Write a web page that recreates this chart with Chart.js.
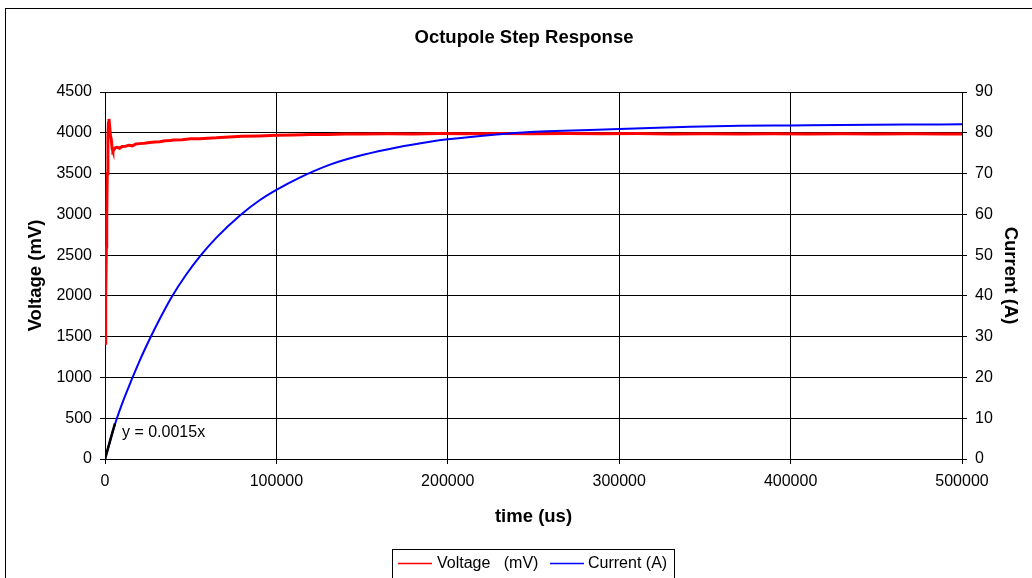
<!DOCTYPE html>
<html><head><meta charset="utf-8">
<script src="https://cdn.jsdelivr.net/npm/chart.js@4.4.1/dist/chart.umd.min.js"></script>
<style>html,body{margin:0;padding:0;background:#fff;overflow:hidden;}#wrap{width:1032px;height:578px;position:relative;}</style>
</head><body><div id="wrap"><canvas id="c" width="1032" height="578"></canvas></div>
<script>
const chartTitle = 'Octupole Step Response';
const xAxisTitle = 'time (us)';
const yLeftTitle = 'Voltage (mV)';
const yRightTitle = 'Current (A)';
const voltageLabel = 'Voltage   (mV)';
const currentLabel = 'Current (A)';
const trendLabel = 'y = 0.0015x';

const xTicks = [0, 100000, 200000, 300000, 400000, 500000];
const voltageTicks = [0, 500, 1000, 1500, 2000, 2500, 3000, 3500, 4000, 4500];
const currentTicks = [0, 10, 20, 30, 40, 50, 60, 70, 80, 90];

const voltageTime = [0, 300, 500, 800, 1000, 1300, 1700, 2000, 2300, 2700, 3200, 3600, 4200, 4600, 5200, 6000, 7000, 8500, 10000, 12000, 14000, 16000, 18000, 20000, 23000, 26000, 29000, 32000, 35000, 38000, 40000, 45000, 50000, 55000, 60000, 65000, 70000, 75000, 80000, 90000, 100000, 110000, 120000, 130000, 140000, 150000, 165000, 180000, 195000, 210000, 230000, 250000, 270000, 290000, 310000, 330000, 350000, 370000, 390000, 410000, 430000, 450000, 470000, 490000, 500000];
const voltageValues = [1420, 1700, 2000, 2600, 2950, 3500, 3950, 4120, 4170, 4080, 3960, 3930, 3800, 3775, 3790, 3815, 3822, 3810, 3832, 3836, 3848, 3840, 3862, 3867, 3872, 3880, 3886, 3890, 3902, 3905, 3911, 3915, 3926, 3928, 3933, 3938, 3946, 3950, 3956, 3962, 3970, 3974, 3979, 3980, 3984, 3985, 3988, 3986, 3990, 3989, 3992, 3988, 3990, 3987, 3991, 3986, 3989, 3985, 3988, 3986, 3989, 3984, 3987, 3985, 3986];

const currentTime = [0, 2000, 4000, 6800, 10000, 15600, 20000, 26300, 32000, 39000, 47000, 55600, 65000, 78900, 90000, 100000, 113000, 131300, 150700, 170200, 189600, 200000, 228500, 248000, 267400, 300000, 318000, 341300, 370500, 400000, 428800, 467700, 500000];
const currentValues = [0, 3.0, 6.0, 9.8, 13.6, 19.5, 23.9, 29.6, 34.4, 39.8, 45.0, 49.8, 54.3, 59.8, 63.4, 66.0, 68.9, 72.2, 74.6, 76.4, 77.8, 78.4, 79.6, 80.2, 80.5, 80.9, 81.2, 81.5, 81.7, 81.8, 81.9, 82.0, 82.1];

const trendTime = [0, 5800];
const trendValues = [0, 8.7];

const FONT = "'Liberation Sans', Arial, sans-serif";
const pts = (xs, ys) => xs.map((x, i) => ({x, y: ys[i]}));

const framePlugin = {
  id: 'frame',
  beforeDraw(chart) {
    const ctx = chart.ctx;
    ctx.save();
    ctx.fillStyle = '#fff';
    ctx.fillRect(0, 0, chart.width, chart.height);
    ctx.strokeStyle = '#000';
    ctx.lineWidth = 1;
    ctx.strokeRect(5.5, 8.5, 1200, 700);
    ctx.restore();
  },
  afterDraw(chart) {
    const ctx = chart.ctx;
    ctx.save();
    ctx.fillStyle = '#000';
    ctx.font = 'bold 18.5px ' + FONT;
    ctx.textAlign = 'center';
    ctx.textBaseline = 'middle';
    ctx.fillText(chartTitle, 524, 38);

    const xs = chart.scales.x, ys = chart.scales.y1;
    ctx.font = '16px ' + FONT;
    ctx.textAlign = 'left';
    ctx.fillText(trendLabel, xs.getPixelForValue(9900), ys.getPixelForValue(6.4));

    ctx.strokeStyle = '#000';
    ctx.lineWidth = 1;
    ctx.strokeRect(392.5, 549.5, 282, 40);
    const ds = chart.data.datasets;
    const items = [[ds[0], 398, 437], [ds[1], 550, 588]];
    items.forEach(([d, lx, tx]) => {
      ctx.strokeStyle = d.borderColor;
      ctx.lineWidth = 1.5;
      ctx.beginPath();
      ctx.moveTo(lx, 563.5);
      ctx.lineTo(lx + 34, 563.5);
      ctx.stroke();
      ctx.fillStyle = '#000';
      ctx.fillText(d.label, tx, 564);
    });
    ctx.restore();
  }
};

const tickFont = {family: FONT, size: 16};
const titleFont = {family: FONT, size: 18.5, weight: 'bold'};

new Chart(document.getElementById('c'), {
  type: 'line',
  data: {
    datasets: [
      {label: voltageLabel, data: pts(voltageTime, voltageValues), yAxisID: 'y', borderColor: '#ff0000', borderWidth: 3, pointRadius: 0, tension: 0, order: 2},
      {label: currentLabel, data: pts(currentTime, currentValues), yAxisID: 'y1', borderColor: '#0000ff', borderWidth: 2, pointRadius: 0, cubicInterpolationMode: 'monotone', order: 1},
      {label: 'trend', data: pts(trendTime, trendValues), yAxisID: 'y1', borderColor: '#000000', borderWidth: 2.5, pointRadius: 0, order: 0}
    ]
  },
  options: {
    responsive: false,
    animation: false,
    devicePixelRatio: 1,
    layout: {padding: {top: 92, left: 0, right: 0, bottom: 0}},
    plugins: {legend: {display: false}, title: {display: false}, tooltip: {enabled: false}},
    scales: {
      x: {
        type: 'linear', min: 0, max: 500000,
        afterBuildTicks: s => { s.ticks = xTicks.map(v => ({value: v})); },
        afterFit: s => { s.height = 119; },
        ticks: {font: tickFont, color: '#000', padding: 8, maxRotation: 0, callback: v => String(v)},
        grid: {color: '#000', lineWidth: 1, tickLength: 5, tickColor: '#000'},
        border: {color: '#000'},
        title: {display: true, text: xAxisTitle, font: titleFont, color: '#000', padding: {top: 0, bottom: 50}}
      },
      y: {
        type: 'linear', position: 'left', min: 0, max: 4500,
        afterBuildTicks: s => { s.ticks = voltageTicks.map(v => ({value: v})); },
        afterFit: s => { s.width = 105; },
        ticks: {font: tickFont, color: '#000', padding: 8, callback: v => String(v)},
        grid: {color: '#000', lineWidth: 1, tickLength: 5, tickColor: '#000'},
        border: {color: '#000'},
        title: {display: true, text: yLeftTitle, font: titleFont, color: '#000', padding: {top: 25, bottom: 0}}
      },
      y1: {
        type: 'linear', position: 'right', min: 0, max: 90,
        afterBuildTicks: s => { s.ticks = currentTicks.map(v => ({value: v})); },
        afterFit: s => { s.width = 70; },
        ticks: {font: tickFont, color: '#000', padding: 8, callback: v => String(v)},
        grid: {drawOnChartArea: false, color: '#000', tickLength: 5, tickColor: '#000'},
        border: {color: '#000'},
        title: {display: true, text: yRightTitle, font: titleFont, color: '#000', padding: {top: 11, bottom: 0}}
      }
    }
  },
  plugins: [framePlugin]
});
</script>
</body></html>
